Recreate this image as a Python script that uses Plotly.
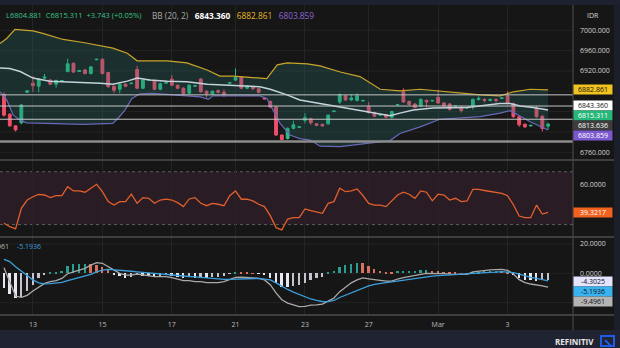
import plotly.graph_objects as go

W, H = 620, 348

# ---------------- data ----------------
opens = [6874, 6835, 6812, 6818, 6878, 6896, 6890, 6906, 6902, 6894,
         6900, 6919, 6935, 6919, 6922, 6915, 6942, 6943, 6917, 6890,
         6884, 6894, 6895, 6923, 6886, 6902, 6901, 6884, 6896, 6904,
         6892, 6886, 6876, 6890, 6904, 6880, 6875, 6881, 6878, 6896,
         6902, 6908, 6886, 6889, 6885, 6866, 6860, 6849, 6794, 6787,
         6807, 6809, 6823, 6826, 6816, 6815, 6816, 6840, 6859, 6871,
         6863, 6862, 6861, 6850, 6838, 6833, 6834, 6829, 6853, 6879,
         6860, 6855, 6851, 6862, 6861, 6868, 6857, 6855, 6851, 6849,
         6847, 6851, 6864, 6864, 6862, 6864, 6866, 6871, 6856, 6830,
         6815, 6812, 6846, 6831, 6811.568]
highs = [6878, 6837, 6813, 6855, 6882, 6910, 6906, 6914, 6904, 6903,
         6902, 6944, 6937, 6922, 6924, 6930, 6944, 6945, 6918, 6891,
         6897, 6896, 6897, 6930, 6904, 6904, 6903, 6897, 6898, 6912,
         6893, 6888, 6894, 6892, 6906, 6882, 6882, 6884, 6884, 6898,
         6925, 6910, 6892, 6891, 6887, 6867, 6862, 6851, 6795, 6809,
         6822, 6811, 6837, 6828, 6817, 6816, 6835, 6842, 6876, 6873,
         6874, 6876, 6863, 6859, 6840, 6835, 6836, 6842, 6855, 6886,
         6862, 6857, 6866, 6864, 6863, 6883, 6859, 6857, 6853, 6851,
         6849, 6866, 6870, 6866, 6866, 6866, 6868, 6880, 6858, 6832,
         6817, 6814, 6851, 6833, 6818]
lows = [6830, 6810, 6801, 6815, 6877, 6879, 6878, 6904, 6892, 6887,
        6899, 6917, 6916, 6918, 6913, 6913, 6941, 6913, 6887, 6876,
        6876, 6888, 6894, 6884, 6884, 6901, 6882, 6882, 6895, 6890,
        6884, 6873, 6874, 6889, 6877, 6868, 6873, 6876, 6869, 6895,
        6900, 6884, 6884, 6883, 6876, 6864, 6847, 6792, 6783, 6785,
        6805, 6808, 6817, 6814, 6811, 6810, 6814, 6839, 6855, 6861,
        6861, 6860, 6860, 6836, 6829, 6832, 6827, 6826, 6852, 6857,
        6852, 6846, 6849, 6848, 6860, 6855, 6849, 6842, 6850, 6838,
        6846, 6844, 6862, 6858, 6860, 6857, 6865, 6854, 6828, 6810,
        6808, 6811, 6828, 6801, 6804.881]
closes = [6833, 6812, 6804, 6853, 6881, 6891, 6904, 6908, 6894, 6901,
          6901, 6934, 6918, 6921, 6915, 6928, 6943, 6915, 6889, 6882,
          6894, 6890, 6896, 6886, 6902, 6903, 6884, 6895, 6897, 6892,
          6886, 6875, 6892, 6891, 6879, 6875, 6880, 6878, 6874, 6897,
          6907, 6886, 6890, 6885, 6878, 6865, 6849, 6794, 6785, 6807,
          6814, 6810, 6828, 6818, 6813, 6812, 6833, 6841, 6873, 6863,
          6867, 6871, 6862, 6838, 6831, 6834, 6829, 6840, 6854, 6859,
          6854, 6848, 6864, 6859, 6862, 6857, 6851, 6844, 6852, 6842,
          6848, 6864, 6866, 6862, 6864, 6862, 6867, 6856, 6830, 6814,
          6810, 6813, 6830, 6807, 6815.311]
candle_idx = list(range(len(closes)))

bb_upper_x = [-0.69, 0.47, 1.9, 5.0, 6.7, 10.2, 13.7, 18.8, 21.3, 23.0, 28.2, 31.6, 35.1,
              37.3, 39.6, 43.0, 45.4, 47.2, 48.9, 52.4, 54.6, 58.1, 61.5, 65.0, 68.4,
              71.9, 75.3, 78.8, 82.3, 85.7, 88.0, 90.9, 94]
bb_upper = [6974, 6984, 7002, 6999, 6994, 6982, 6976, 6965, 6955, 6940, 6940, 6936, 6922,
            6910, 6910, 6907, 6905, 6932, 6936, 6934, 6930, 6918, 6909, 6884, 6881,
            6884, 6880, 6876, 6873, 6871, 6879, 6884, 6882.861]
bb_mid_x = [-0.69, 1.0, 2.8, 5.0, 7.9, 10.9, 13.7, 16.6, 18.8, 21.3, 23.0, 25.2, 28.2,
            31.6, 35.1, 38.5, 42.0, 44.2, 46.0, 48.9, 51.1, 54.6, 58.1, 61.5, 65.0,
            66.7, 68.4, 70.7, 74.1, 77.1, 80.0, 82.8, 85.7, 87.4, 89.2, 91.4, 94]
bb_mid = [6926, 6925, 6919, 6906, 6900, 6899, 6897, 6896, 6894, 6900, 6906, 6902, 6900,
          6899, 6894, 6892, 6890, 6889, 6884, 6873, 6863, 6856, 6848, 6842, 6835,
          6832, 6837, 6843, 6847, 6847, 6848, 6852, 6856, 6856, 6851, 6848, 6843.360]
bb_lower_x = [-0.69, 0.47, 1.6, 2.8, 3.9, 7.9, 13.7, 18.8, 19.7, 20.9, 22.1, 23.5, 25.7,
              29.2, 33.9, 35.3, 36.1, 39.6, 44.2, 45.4, 46.5, 47.7, 49.4, 51.1, 52.9,
              54.6, 58.1, 61.5, 65.0, 66.7, 68.4, 71.9, 75.3, 78.8, 82.3, 85.7, 87.4,
              88.6, 90.9, 94]
bb_lower = [6879, 6863, 6833, 6823, 6818, 6817, 6815, 6817, 6827, 6843, 6866, 6875, 6876,
            6873, 6869, 6864, 6871, 6871, 6871, 6866, 6843, 6817, 6794, 6787, 6784,
            6772, 6771, 6776, 6781, 6783, 6797, 6810, 6825, 6827, 6830, 6837, 6842,
            6835, 6820, 6803.859]

price_levels = [6873, 6851, 6825, 6781]

rsi = [31.0, 28.4, 26.7, 42.3, 48.6, 51.1, 52.9, 52.4, 50.4, 51.9,
       51.9, 58.7, 55.5, 55.5, 54.5, 57.5, 60.5, 54.9, 47.4, 44.8,
       47.4, 47.4, 53.0, 46.1, 50.4, 49.9, 46.1, 48.6, 49.2, 48.6,
       46.6, 43.6, 49.4, 50.4, 46.1, 44.3, 46.1, 45.4, 44.3, 51.9,
       55.5, 49.2, 49.2, 47.9, 45.4, 43.6, 36.8, 27.7, 26.0, 34.2,
       35.2, 35.2, 41.8, 40.5, 39.5, 38.5, 46.1, 47.4, 57.5, 54.9,
       55.5, 57.0, 52.0, 46.1, 44.8, 44.8, 43.6, 48.0, 52.4, 54.5,
       53.0, 49.9, 55.5, 54.5, 48.0, 53.0, 52.4, 48.6, 49.9, 47.4,
       47.9, 56.7, 56.7, 55.8, 55.0, 54.5, 53.7, 51.9, 45.0, 36.5,
       35.2, 35.2, 44.8, 38.0, 39.3217]

macd = [3.8, -6.5, -15.5, -16.4, -15.0, -12.0, -9.6, -6.9, -5.7, -5.0,
        -3.5, -0.3, 1.0, 2.1, 3.3, 5.5, 7.2, 6.8, 4.5, 1.8,
        0.0, -1.2, -1.2, -0.5, -1.2, -1.6, -2.3, -2.3, -2.3, -3.0,
        -4.0, -5.0, -5.0, -5.7, -5.7, -6.4, -6.4, -6.4, -5.7, -4.2,
        -2.8, -2.7, -2.8, -3.4, -3.4, -4.5, -7.8, -13.3, -18.0, -20.3,
        -21.5, -22.7, -22.5, -21.7, -21.5, -21.0, -19.0, -16.8, -12.5, -9.5,
        -6.5, -4.5, -3.2, -3.8, -4.5, -5.0, -5.4, -5.4, -3.9, -3.0,
        -2.4, -1.6, -0.8, 0.0, 0.0, 0.0, -0.3, -0.6, -0.7, -0.7,
        -0.7, 1.0, 1.6, 2.0, 2.3, 2.5, 2.6, 2.0, -0.5, -4.3,
        -6.3, -7.3, -7.7, -8.5, -9.4961]
signal = [9.5, 8.0, 4.5, 1.5, -2.0, -4.5, -6.5, -7.2, -7.1, -6.8,
          -6.2, -5.0, -4.0, -2.8, -1.8, -0.7, 1.0, 2.2, 2.7, 2.5,
          2.2, 1.9, 1.4, 1.0, 0.6, 0.2, -0.1, -0.6, -1.0, -1.3,
          -1.6, -1.8, -2.2, -2.5, -2.8, -3.2, -3.7, -4.1, -4.1, -4.1,
          -4.0, -3.5, -3.4, -3.4, -3.5, -4.0, -4.5, -6.5, -8.8, -11.0,
          -12.8, -14.5, -16.0, -17.5, -18.5, -19.2, -19.3, -18.5, -16.5, -15.0,
          -13.0, -11.5, -10.0, -8.6, -7.6, -6.8, -6.3, -5.9, -5.3, -4.5,
          -3.9, -3.3, -2.7, -2.3, -1.9, -1.6, -1.3, -1.1, -0.9, -0.7,
          -0.4, 0.0, 0.3, 0.5, 0.6, 0.8, 1.1, 0.8, 0.5, -0.5,
          -1.8, -2.8, -3.5, -4.3, -5.1936]
hist = [-10.0, -14.0, -17.0, -16.0, -12.0, -8.0, -3.5, -1.0, 0.3, 0.6,
        1.5, 5.0, 6.0, 6.5, 6.5, 6.0, 5.5, 4.0, 2.0, -0.7,
        -2.0, -3.0, -2.6, -1.5, -1.8, -1.8, -2.2, -1.7, -1.3, -1.7,
        -2.4, -3.2, -2.8, -3.2, -2.9, -3.2, -2.7, -2.3, -1.6, -0.1,
        1.2, 0.8, 0.6, 0.1, -0.2, -0.6, -3.3, -6.8, -9.2, -9.3,
        -8.7, -8.2, -6.5, -4.5, -3.0, -2.5, 0.3, 1.7, 4.0, 5.5,
        6.5, 7.0, 6.8, 4.8, 3.0, 1.8, 0.9, 0.5, 1.4, 1.5,
        1.5, 1.7, 1.9, 2.2, 1.8, 1.6, 1.0, 0.5, 0.2, 0.1,
        -0.2, 0.5, 1.2, 1.4, 1.5, 1.6, 1.5, 1.2, -1.2, -3.5,
        -4.4, -4.7, -5.5, -4.8, -4.3025]

day_tick_idx = [5, 17, 29, 40, 52, 63, 75, 87]
day_tick_text = ["13", "15", "17", "21", "23", "27", "Mar", "3"]

# tick labels that stay visible (others sit behind the value tags)
price_ticks = [6760, 6920, 6960, 7000]
price_grid = [6760, 6800, 6840, 6880, 6920, 6960, 7000]
rsi_ticks = [60]
macd_ticks = [0, 20]

# ---------------- style ----------------
BG = "#161616"
GRID = "#242424"
FONT = "Open Sans"
UP = "#2bbf85"
DOWN = "#ef4f6b"


def py(p):
    return 1 - p / H


def px(p):
    return p / W


XR = px(573)

hist_colors = []
for k, v in enumerate(hist):
    prev = hist[k - 1] if k > 0 else v
    if v >= 0:
        hist_colors.append("#2a9d8f" if v >= prev else "#d9735f")
    else:
        hist_colors.append("#e8e8f2" if v <= prev else "#c4c4d0")

fig = go.Figure()

# Bollinger bands
fig.add_trace(go.Scatter(x=bb_upper_x, y=bb_upper, mode="lines",
                         line=dict(color="#c9a52a", width=1.2), yaxis="y", hoverinfo="skip"))
fig.add_trace(go.Scatter(x=bb_lower_x, y=bb_lower, mode="lines",
                         line=dict(color="#6a68b8", width=1.2), fill="tonexty",
                         fillcolor="rgba(40,115,112,0.27)", yaxis="y", hoverinfo="skip"))
fig.add_trace(go.Scatter(x=bb_mid_x, y=bb_mid, mode="lines",
                         line=dict(color="#c3d3db", width=1.5), yaxis="y", hoverinfo="skip"))

# candles
fig.add_trace(go.Candlestick(
    x=candle_idx, open=opens, high=highs, low=lows, close=closes,
    increasing=dict(line=dict(color=UP, width=1), fillcolor=UP),
    decreasing=dict(line=dict(color=DOWN, width=1), fillcolor=DOWN),
    whiskerwidth=0, yaxis="y", hoverinfo="skip"))

# RSI
fig.add_trace(go.Scatter(x=candle_idx, y=rsi, mode="lines",
                         line=dict(color="#e2602c", width=1.3), yaxis="y2", hoverinfo="skip"))

# MACD
fig.add_trace(go.Bar(x=candle_idx, y=hist, marker=dict(color=hist_colors, line=dict(width=0)),
                     width=0.32, yaxis="y3", hoverinfo="skip"))
fig.add_trace(go.Scatter(x=candle_idx, y=macd, mode="lines",
                         line=dict(color="#a9a9a9", width=1.3), yaxis="y3", hoverinfo="skip"))
fig.add_trace(go.Scatter(x=candle_idx, y=signal, mode="lines",
                         line=dict(color="#3d9fdc", width=1.3), yaxis="y3", hoverinfo="skip"))

axis_common = dict(side="right", anchor="x", showline=False, zeroline=False,
                   showgrid=False, ticks="", ticklabelstandoff=6,
                   tickfont=dict(family=FONT, size=7, color="#d2d2d2"), fixedrange=True)

fig.update_layout(
    width=W, height=H, autosize=False,
    margin=dict(l=0, r=0, t=0, b=0),
    paper_bgcolor=BG, plot_bgcolor=BG,
    showlegend=False, bargap=0,
    xaxis=dict(domain=[0, XR], range=[-0.69, 98.3], anchor="y3",
               tickmode="array", tickvals=day_tick_idx, ticktext=day_tick_text,
               showgrid=True, gridcolor=GRID, zeroline=False, showline=False,
               ticks="", ticklabelstandoff=4,
               tickfont=dict(family=FONT, size=7, color="#bdbdbd"),
               rangeslider=dict(visible=False)),
    yaxis=dict(domain=[py(160), py(5)], range=[6744.8, 7049.8],
               tickmode="array", tickvals=price_ticks, tickformat=".3f", **axis_common),
    yaxis2=dict(domain=[py(237), py(160)], range=[20.6, 78.9],
                tickmode="array", tickvals=rsi_ticks, tickformat=".4f", **axis_common),
    yaxis3=dict(domain=[py(315), py(237)], range=[-28.4, 24.7],
                tickmode="array", tickvals=macd_ticks, tickformat=".4f", **axis_common),
)

shapes = []
# faint horizontal grid
for g in price_grid:
    shapes.append(dict(type="line", xref="x", yref="y", x0=-0.69, x1=98.3, y0=g, y1=g,
                       line=dict(color=GRID, width=1), layer="below"))
for g in (40, 60):
    shapes.append(dict(type="line", xref="x", yref="y2", x0=-0.69, x1=98.3, y0=g, y1=g,
                       line=dict(color="#2f2229", width=1), layer="below"))
for g in (-20, 0, 20):
    shapes.append(dict(type="line", xref="x", yref="y3", x0=-0.69, x1=98.3, y0=g, y1=g,
                       line=dict(color=GRID, width=1), layer="below"))
# top strip and footer
shapes.append(dict(type="rect", xref="paper", yref="paper", x0=0, x1=1, y0=py(5), y1=1,
                   fillcolor="#1e2230", line=dict(width=0), layer="above"))
shapes.append(dict(type="rect", xref="paper", yref="paper", x0=0, x1=1, y0=0, y1=py(330),
                   fillcolor="#1f2332", line=dict(width=0), layer="above"))
shapes.append(dict(type="rect", xref="paper", yref="paper", x0=px(614), x1=1, y0=py(330), y1=py(5),
                   fillcolor="#1b1f2a", line=dict(width=0), layer="above"))
# RSI band
shapes.append(dict(type="rect", xref="x", yref="y2", x0=-0.69, x1=98.3, y0=30, y1=70,
                   fillcolor="#2a1c24", line=dict(width=0), layer="below"))
for lvl in (70, 30):
    shapes.append(dict(type="line", xref="x", yref="y2", x0=-0.69, x1=98.3, y0=lvl, y1=lvl,
                       line=dict(color="#5e5e5e", width=1, dash="dot"), layer="below"))
# price horizontal levels
for k, lvl in enumerate(price_levels):
    last = k == len(price_levels) - 1
    shapes.append(dict(type="line", xref="x", yref="y", x0=-0.69, x1=98.3, y0=lvl, y1=lvl,
                       line=dict(color="#8c8c8c" if last else "#c6c6c6", width=2.5 if last else 1),
                       layer="above"))
# separators
for yy in (160, 237, 315):
    shapes.append(dict(type="line", xref="paper", yref="paper", x0=0, x1=px(614), y0=py(yy), y1=py(yy),
                       line=dict(color="#4e4e4e", width=1.6), layer="above"))
shapes.append(dict(type="line", xref="paper", yref="paper", x0=XR, x1=XR, y0=py(330), y1=py(5),
                   line=dict(color="#4e4e4e", width=1), layer="above"))
# logo
shapes.append(dict(type="rect", xref="paper", yref="paper", x0=px(601), x1=px(614), y0=py(346), y1=py(336),
                   fillcolor="rgba(0,0,0,0)", line=dict(color="#1f5be8", width=2), layer="above"))
shapes.append(dict(type="line", xref="paper", yref="paper", x0=px(605), x1=px(611), y0=py(340), y1=py(346),
                   line=dict(color="#1f5be8", width=2), layer="above"))
fig.update_layout(shapes=shapes)

ann = []


def text(xp, yp, s, size=7, color="#cccccc", anchor="left"):
    ann.append(dict(x=px(xp), y=py(yp), xref="paper", yref="paper", text=s, showarrow=False,
                    xanchor=anchor, yanchor="middle", font=dict(family=FONT, size=size, color=color)))


def tag(yp, s, bg, fg):
    ann.append(dict(x=px(572.5), y=py(yp), xref="paper", yref="paper", text=s, showarrow=False,
                    xanchor="left", yanchor="middle", width=38, height=9, align="center",
                    bgcolor=bg, borderpad=0, font=dict(family=FONT, size=7, color=fg)))


G = "#35c48a"
text(4, 15, f'<span style="color:{G}">L6804.881&nbsp;&nbsp;C6815.311&nbsp;&nbsp;+3.743 (+0.05%)</span>', size=7.5)
text(150, 15, '<span style="color:#a8a8a8">BB (20, 2)</span>&nbsp;&nbsp;&nbsp;<b><span style="color:#ffffff">6843.360</span></b>'
               '&nbsp;&nbsp;&nbsp;<span style="color:#e8b923">6882.861</span>'
               '&nbsp;&nbsp;&nbsp;<span style="color:#8a66d6">6803.859</span>', size=8.3)
text(593, 15, "IDR", size=7, color="#d8d8d8", anchor="center")
text(11, 246, "-9.4961", size=7, color="#b5b5b5", anchor="right")
text(15, 246, "-5.1936", size=7, color="#3d9fdc")

tag(89.8, "6882.861", "#f2c31f", "#111111")
tag(105, "6843.360", "#ffffff", "#111111")
tag(115.7, "6815.311", "#27b77a", "#ffffff")
tag(125.7, "6813.636", "#3d3d3d", "#ffffff")
tag(135.7, "6803.859", "#7b58d0", "#ffffff")
tag(212.5, "39.3217", "#f2621f", "#ffffff")
tag(281, "-4.3025", "#e4e4ff", "#111111")
tag(291, "-5.1936", "#38b2f0", "#111111")
tag(301, "-9.4961", "#b4b4b4", "#111111")

text(574, 341, "<b>REFINITIV</b>", size=8, color="#e6e6e6", anchor="center")

fig.update_layout(annotations=ann)

fig.write_html("out.html")
